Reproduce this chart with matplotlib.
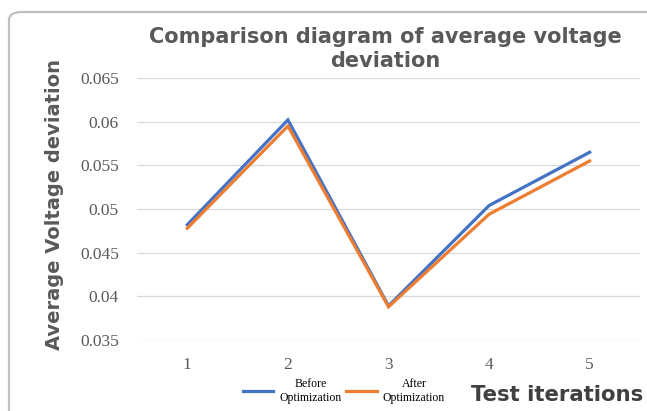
import matplotlib.pyplot as plt
from matplotlib.patches import FancyBboxPatch
from matplotlib.ticker import FuncFormatter

# data
iterations = [1, 2, 3, 4, 5]
before_opt = [0.0482, 0.0602, 0.0389, 0.0504, 0.0565]
after_opt = [0.0478, 0.0595, 0.0388, 0.0494, 0.0555]
y_ticks = [0.035, 0.04, 0.045, 0.05, 0.055, 0.06, 0.065]

W, H = 647, 411
fig = plt.figure(figsize=(W / 100, H / 100), dpi=100)

# chart frame with rounded corner (cut off at right and bottom like the screenshot)
frame = FancyBboxPatch((9 / W, -0.2), 1.2, (H - 12) / H + 0.2,
                       boxstyle="round,pad=0,rounding_size=0.02",
                       transform=fig.transFigure, fill=False,
                       edgecolor='#BFBFBF', linewidth=1.6)
fig.patches.append(frame)

ax = fig.add_axes([137 / W, (H - 340) / H, (640 - 137) / W, (340 - 78) / H])
ax.plot(iterations, before_opt, color='#4472C4', lw=2.3, label='Before\nOptimization',
        solid_joinstyle='miter')
ax.plot(iterations, after_opt, color='#ED7D31', lw=2.3, label='After\nOptimization',
        solid_joinstyle='miter')

ax.set_xlim(0.5, 5.5)
ax.set_ylim(0.035, 0.065)
ax.set_yticks(y_ticks)
ax.set_xticks(iterations)
ax.yaxis.set_major_formatter(FuncFormatter(lambda v, p: ('%g' % v)))
ax.grid(axis='y', color='#D9D9D9', lw=0.9)
ax.set_axisbelow(True)
for s in ax.spines.values():
    s.set_visible(False)
ax.tick_params(length=0, colors='#595959', labelsize=12.5)
ax.tick_params(axis='y', pad=13)
ax.tick_params(axis='x', pad=12)
for t in ax.get_xticklabels() + ax.get_yticklabels():
    t.set_fontfamily('Liberation Serif')

fig.text(385 / W, 1 - 49 / H, 'Comparison diagram of average voltage\ndeviation',
         ha='center', va='center', fontsize=15, fontweight='bold', color='#595959',
         family='DejaVu Sans', linespacing=1.2)
fig.text(54 / W, 1 - 205 / H, 'Average Voltage deviation', rotation=90,
         ha='center', va='center', fontsize=14, fontweight='bold', color='#595959',
         family='DejaVu Sans')
fig.text(643 / W, 1 - 395 / H, 'Test iterations', ha='right', va='center',
         fontsize=15.3, fontweight='bold', color='#404040', family='DejaVu Sans')

leg = fig.legend(loc='center', bbox_to_anchor=(344 / W, 1 - 391 / H), ncol=2,
                 frameon=False, prop={'family': 'Liberation Serif', 'size': 8.5},
                 handlelength=2.6, columnspacing=0.4, handletextpad=0.5)
for t in leg.get_texts():
    t.set_multialignment('center')

fig.savefig('out.png', dpi=100)
